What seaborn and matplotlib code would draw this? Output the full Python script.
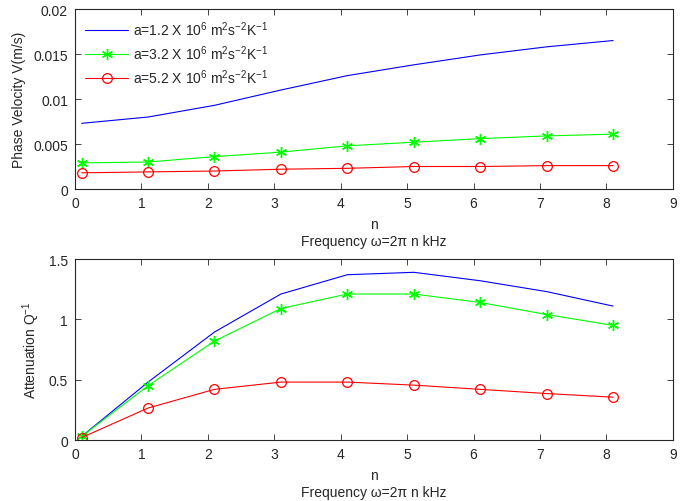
import numpy as np
import pandas as pd
import matplotlib
matplotlib.use("Agg")
import matplotlib.pyplot as plt
import seaborn as sns

# ---- data ----
n_vals = [0.1, 1.1, 2.1, 3.1, 4.1, 5.1, 6.1, 7.1, 8.1]
labels = [r"a=1.2 X 10$^{6}$ m$^{2}$s$^{-2}$K$^{-1}$",
          r"a=3.2 X 10$^{6}$ m$^{2}$s$^{-2}$K$^{-1}$",
          r"a=5.2 X 10$^{6}$ m$^{2}$s$^{-2}$K$^{-1}$"]
vel_a12 = [0.0073, 0.0080, 0.0093, 0.0110, 0.0126, 0.0138, 0.0149, 0.0158, 0.0165]
vel_a32 = [0.0029, 0.0030, 0.0036, 0.0041, 0.0048, 0.0052, 0.0056, 0.0059, 0.0061]
vel_a52 = [0.0018, 0.0019, 0.0020, 0.0022, 0.0023, 0.0025, 0.0025, 0.0026, 0.0026]
att_a12 = [0.03, 0.48, 0.895, 1.21, 1.37, 1.39, 1.32, 1.23, 1.11]
att_a32 = [0.03, 0.45, 0.82, 1.09, 1.21, 1.21, 1.14, 1.04, 0.95]
att_a52 = [0.02, 0.265, 0.42, 0.48, 0.48, 0.455, 0.42, 0.385, 0.355]
x_ticks = [0, 1, 2, 3, 4, 5, 6, 7, 8, 9]
vel_ticks = [0, 0.005, 0.01, 0.015, 0.02]
vel_ticklabels = ["0", "0.005", "0.01", "0.015", "0.02"]
att_ticks = [0, 0.5, 1, 1.5]
att_ticklabels = ["0", "0.5", "1", "1.5"]

sns.set_style("ticks")
plt.rcParams["font.family"] = ["Liberation Sans", "DejaVu Sans"]
plt.rcParams["mathtext.default"] = "regular"
plt.rcParams["mathtext.fontset"] = "custom"
plt.rcParams["mathtext.rm"] = "Liberation Sans"

fig = plt.figure(figsize=(6.88, 5.02), dpi=100)
ax1 = fig.add_axes([0.109, 0.6215, 0.869, 0.3585])
ax2 = fig.add_axes([0.109, 0.1215, 0.869, 0.3605])

styles = [
    dict(color=(0, 0, 1), marker="None"),
    dict(color=(0, 1, 0), marker=(6, 2, 0), markersize=8, markeredgewidth=1.0,
         markerfacecolor=(0, 1, 0)),
    dict(color=(1, 0, 0), marker="o", markersize=7, markerfacecolor="none",
         markeredgewidth=0.9),
]

for ax, series in [(ax1, [vel_a12, vel_a32, vel_a52]), (ax2, [att_a12, att_a32, att_a52])]:
    for vals, lab, st in zip(series, labels, styles):
        n_before = len(ax.lines)
        sns.lineplot(x=n_vals, y=vals, ax=ax, color=st["color"], linewidth=0.8,
                     label=lab, legend=False)
        line = ax.lines[n_before]
        line.set_linestyle("-")
        line.set_marker(st["marker"])
        if "markersize" in st:
            line.set_markersize(st["markersize"])
            line.set_markeredgewidth(st["markeredgewidth"])
            line.set_markeredgecolor(st["color"])
            line.set_markerfacecolor(st["markerfacecolor"])

fs = 10
for ax, ticks, tlabs, ylab in [(ax1, vel_ticks, vel_ticklabels, "Phase Velocity V(m/s)"),
                                (ax2, att_ticks, att_ticklabels, "Attenuation Q$^{-1}$")]:
    ax.set_xlim(0, 9)
    ax.set_ylim(ticks[0], ticks[-1])
    ax.set_xticks(x_ticks)
    ax.set_xticklabels([str(t) for t in x_ticks], fontsize=fs)
    ax.set_yticks(ticks)
    ax.set_yticklabels(tlabs, fontsize=fs)
    ax.tick_params(direction="in", top=True, right=True, length=4, width=0.6, pad=5)
    for s in ax.spines.values():
        s.set_linewidth(0.8)
        s.set_visible(True)
    ax.set_xlabel("n\nFrequency \u03c9=2\u03c0 n kHz", fontsize=fs, linespacing=1.3, labelpad=5)
    ax.set_ylabel(ylab, fontsize=fs, labelpad=5)

ax1.legend(loc="upper left", frameon=False, fontsize=fs, handlelength=3.1,
           borderaxespad=0.35, labelspacing=0.38, handletextpad=0.3)

fig.savefig("out.png", dpi=100)
